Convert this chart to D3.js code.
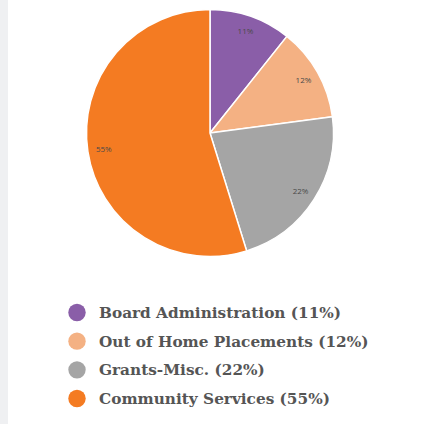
<!DOCTYPE html>
<html><head><meta charset="utf-8">
<script src="https://cdn.jsdelivr.net/npm/d3@7"></script>
<style>html,body{margin:0;padding:0;background:#fff;}</style>
</head><body>
<svg id="c" width="422" height="424"></svg>
<script>
const categories = ["Board Administration", "Out of Home Placements", "Grants-Misc.", "Community Services"];
const values = [10.7, 12.2, 22.3, 54.8];
const pctLabels = ["11%", "12%", "22%", "55%"];
const colors = ["#8a5ea8", "#f4b183", "#a5a5a5", "#f47b22"];

const svg = d3.select("#c");
svg.append("rect").attr("x",0).attr("y",0).attr("width",8).attr("height",424).attr("fill","#eff0f2");

const cx = 210, cy = 133, r = 123.5;
const g = svg.append("g").attr("transform", `translate(${cx},${cy})`);
const pie = d3.pie().sort(null).value(d => d)(values);
const arc = d3.arc().innerRadius(0).outerRadius(r);
const labelArc = d3.arc().innerRadius(r*0.87).outerRadius(r*0.87);

g.selectAll("path").data(pie).join("path")
  .attr("d", arc).attr("fill", (d,i) => colors[i])
  .attr("stroke", "#fff").attr("stroke-width", 1.5).attr("stroke-linejoin","round");

g.selectAll("text").data(pie).join("text")
  .attr("transform", d => `translate(${labelArc.centroid(d)})`)
  .attr("text-anchor","middle").attr("dy","0.35em")
  .attr("font-family","'Open Sans', sans-serif").attr("font-size", 8)
  .attr("fill","#4a4a4a")
  .text((d,i) => pctLabels[i]);

const legY = d3.scalePoint().domain(categories).range([312.5, 398.5]);
const leg = svg.append("g");
const items = leg.selectAll("g").data(categories).join("g")
  .attr("transform", d => `translate(0,${legY(d)})`);
items.append("circle").attr("cx", 77).attr("cy", 0).attr("r", 8.7)
  .attr("fill", (d,i) => colors[i]);
items.append("text").attr("x", 99).attr("y", 0).attr("dy","0.36em")
  .attr("font-family","'DejaVu Serif', serif").attr("font-weight","bold")
  .attr("font-size", 15.3).attr("fill","#555")
  .text((d,i) => `${d} (${pctLabels[i]})`);
</script>
</body></html>
